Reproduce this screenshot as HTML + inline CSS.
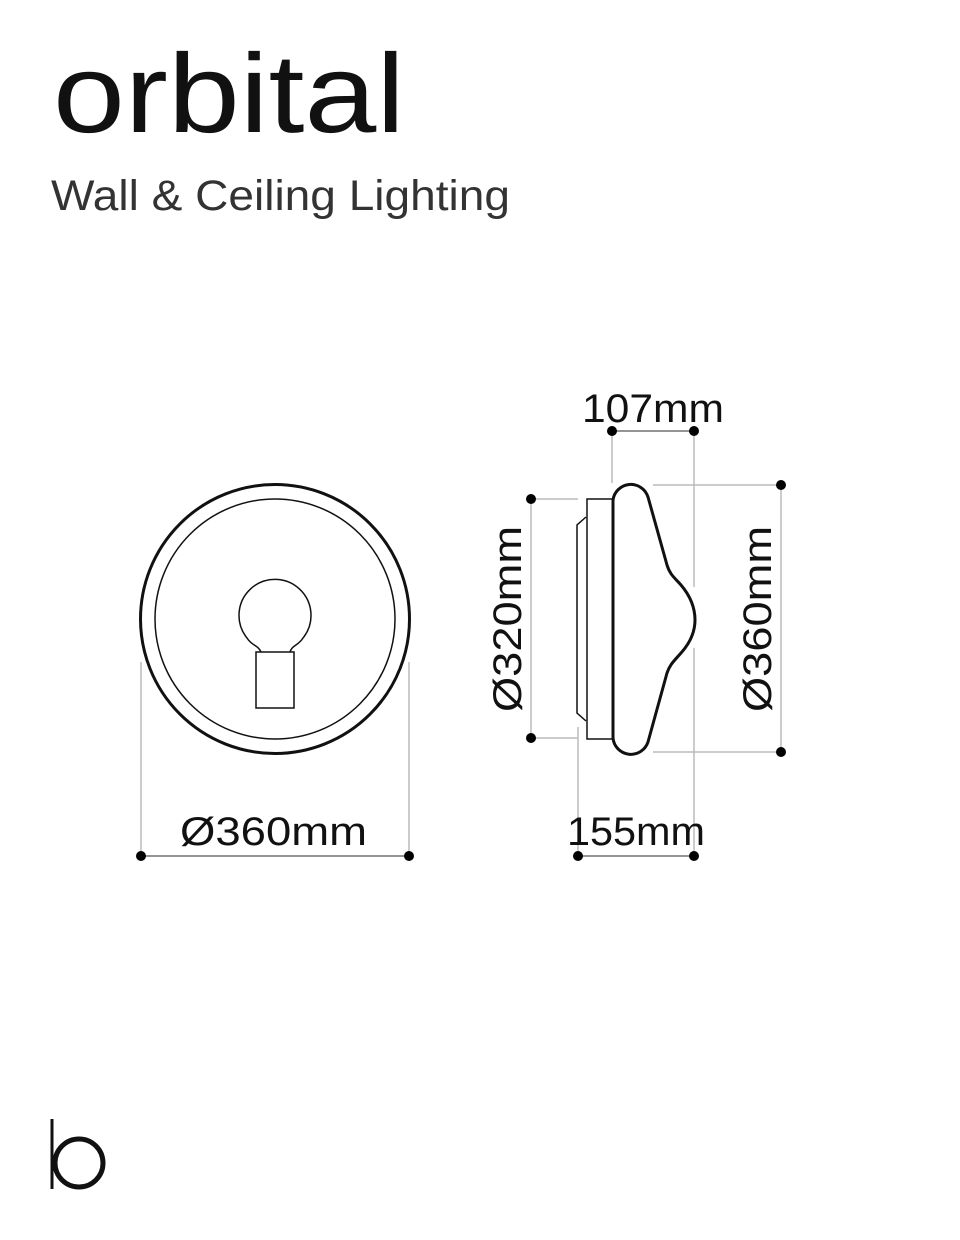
<!DOCTYPE html>
<html><head><meta charset="utf-8"><style>
html,body{margin:0;padding:0;background:#fff;}
svg{display:block;}
text{font-family:"Liberation Sans",sans-serif;fill:#111;}
</style></head><body>
<svg width="960" height="1240" viewBox="0 0 960 1240" xmlns="http://www.w3.org/2000/svg">
<text x="53" y="132" font-size="112" textLength="352" lengthAdjust="spacingAndGlyphs">orbital</text>
<text x="51" y="210" font-size="43" textLength="459" lengthAdjust="spacingAndGlyphs" style="fill:#333">Wall &amp; Ceiling Lighting</text>

<!-- front view -->
<g fill="none" stroke="#111">
<circle cx="275" cy="619" r="134.5" stroke-width="3"/>
<circle cx="275" cy="619" r="120" stroke-width="1.5"/>
<path d="M261 652 C258 645 252 646 247 638 A36 36 0 1 1 303 638 C298 646 292 645 290 652" stroke-width="1.5"/>
<rect x="256" y="652" width="38" height="56" stroke-width="1.5"/>
</g>
<g stroke="#bbb" stroke-width="1.5">
<line x1="141" y1="662" x2="141" y2="856"/>
<line x1="409" y1="662" x2="409" y2="856"/>
<line x1="612" y1="431" x2="612" y2="483"/>
<line x1="694" y1="431" x2="694" y2="587"/>
<line x1="694" y1="648" x2="694" y2="856"/>
<line x1="578" y1="727" x2="578" y2="856"/>
<line x1="531" y1="499" x2="578" y2="499"/>
<line x1="531" y1="738" x2="578" y2="738"/>
<line x1="653" y1="485" x2="781" y2="485"/>
<line x1="653" y1="752" x2="781" y2="752"/>
<line x1="531" y1="499" x2="531" y2="738"/>
<line x1="781" y1="485" x2="781" y2="752"/>
</g>
<g stroke="#555" stroke-width="1.2">
<line x1="141" y1="856" x2="409" y2="856"/>
<line x1="612" y1="431" x2="694" y2="431"/>
<line x1="578" y1="856" x2="694" y2="856"/>
</g>
<g fill="#000">
<circle cx="141" cy="856" r="5"/><circle cx="409" cy="856" r="5"/>
<circle cx="612" cy="431" r="5"/><circle cx="694" cy="431" r="5"/>
<circle cx="578" cy="856" r="5"/><circle cx="694" cy="856" r="5"/>
<circle cx="531" cy="499" r="5"/><circle cx="531" cy="738" r="5"/>
<circle cx="781" cy="485" r="5"/><circle cx="781" cy="752" r="5"/>
</g>

<!-- side view -->
<g fill="none" stroke="#111">
<rect x="587" y="499" width="26" height="240" stroke-width="1.5"/>
<path d="M586 517 L577 525 L577 713 L586 721" stroke-width="1.5"/>
<path d="M613 500 A18 18 0 0 1 648 497 L667 565 C670 575 675 578 681 585 C692 598 695 610 695 620 C695 632 690 643 681 653 C675 660 670 664 667 673 L648 742 A18 18 0 0 1 613 738 Z" stroke-width="3"/>
</g>

<text x="582" y="422" font-size="40" textLength="142" lengthAdjust="spacingAndGlyphs">107mm</text>
<text x="180" y="845" font-size="40" textLength="187" lengthAdjust="spacingAndGlyphs">Ø360mm</text>
<text x="567" y="845" font-size="40" textLength="138" lengthAdjust="spacingAndGlyphs">155mm</text>
<text x="0" y="0" font-size="40" textLength="186" lengthAdjust="spacingAndGlyphs" transform="translate(521 712) rotate(-90)">Ø320mm</text>
<text x="0" y="0" font-size="40" textLength="186" lengthAdjust="spacingAndGlyphs" transform="translate(771 712) rotate(-90)">Ø360mm</text>

<!-- logo -->
<line x1="52" y1="1119" x2="52" y2="1189" stroke="#111" stroke-width="3"/>
<circle cx="79" cy="1163" r="24" fill="none" stroke="#111" stroke-width="5"/>
</svg>
</body></html>
